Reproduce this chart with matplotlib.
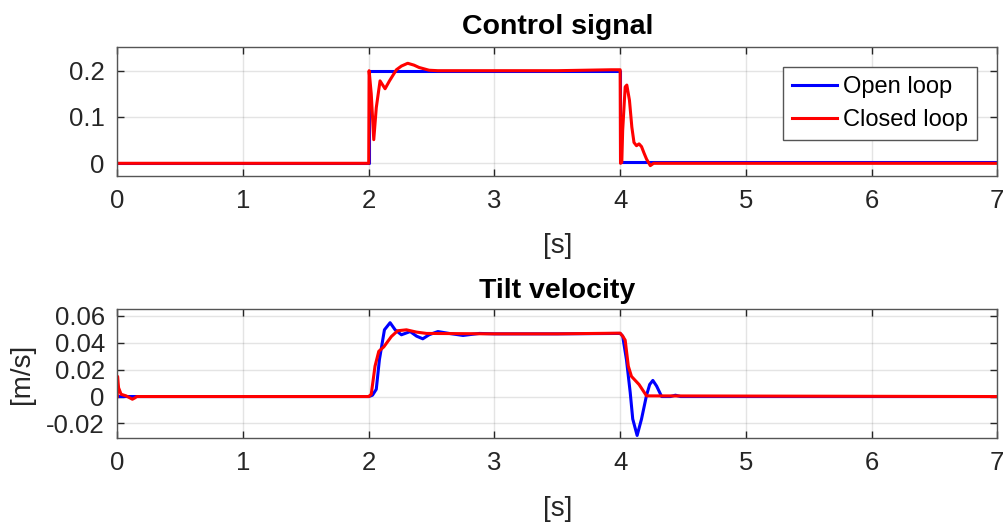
import numpy as np
import matplotlib
matplotlib.use("Agg")
import matplotlib.pyplot as plt

plt.rcParams['font.family'] = ['Liberation Sans', 'DejaVu Sans']

# Control signal, open loop (step between 2 s and 4 s)
t_u_open = [0, 2.0, 2.0, 4.0, 4.0, 7.0]
u_open = [0, 0, 0.2, 0.2, 0.003, 0.003]

# Control signal, closed loop
t_u_closed = [0, 2.0, 2.003, 2.02, 2.04, 2.06, 2.09, 2.13, 2.165, 2.22, 2.26, 2.31,
              2.36, 2.40, 2.48, 2.55, 3.0, 3.5, 3.93, 3.99, 4.0, 4.003, 4.013, 4.02,
              4.04, 4.053, 4.074, 4.093, 4.11, 4.13, 4.15, 4.17, 4.19, 4.21, 4.24, 4.266, 7.0]
u_closed = [0, 0, 0.2, 0.15, 0.051, 0.12, 0.178, 0.161, 0.178, 0.202, 0.21, 0.216,
            0.212, 0.207, 0.201, 0.2, 0.2, 0.2, 0.202, 0.202, 0.202, 0.0, 0.002, 0.071,
            0.165, 0.169, 0.136, 0.078, 0.045, 0.038, 0.042, 0.036, 0.022, 0.009, -0.005, 0.0, 0.0]

# Tilt velocity, open loop
t_v_open = [0, 2.0, 2.03, 2.06, 2.085, 2.125, 2.17, 2.21, 2.26, 2.33, 2.38, 2.43, 2.48,
            2.55, 2.64, 2.75, 2.88, 3.0, 3.5, 4.0, 4.02, 4.05, 4.08, 4.10, 4.135, 4.17,
            4.21, 4.235, 4.26, 4.29, 4.33, 4.40, 4.44, 4.48, 7.0]
v_open = [0, 0, 0.001, 0.0054, 0.0275, 0.0497, 0.055, 0.0497, 0.046, 0.0484, 0.045, 0.043,
          0.046, 0.0484, 0.047, 0.0455, 0.047, 0.0467, 0.0467, 0.047, 0.045, 0.0275, 0.003,
          -0.0167, -0.029, -0.0167, 0.001, 0.009, 0.012, 0.0078, 0.0, 0.0, 0.001, 0.0, 0.0]

# Tilt velocity, closed loop
t_v_closed = [0, 0.002, 0.01, 0.03, 0.07, 0.1, 0.12, 0.14, 0.155, 2.0, 2.02, 2.05, 2.08,
              2.12, 2.18, 2.23, 2.30, 2.38, 2.46, 3.0, 3.5, 4.0, 4.02, 4.04, 4.065, 4.09,
              4.15, 4.21, 7.0]
v_closed = [0.0, 0.015, 0.0066, 0.0017, 0.0005, -0.001, -0.002, -0.001, 0, 0, 0.0017,
            0.0226, 0.0337, 0.037, 0.0447, 0.049, 0.0497, 0.048, 0.047, 0.0467, 0.0467,
            0.0472, 0.045, 0.042, 0.0226, 0.015, 0.009, 0.0005, 0.0]

W, H = 1004, 522
fig = plt.figure(figsize=(W / 100, H / 100), dpi=100)

def px_axes(left, top, right, bottom):
    return fig.add_axes([left / W, 1 - bottom / H, (right - left) / W, (bottom - top) / H])

ax1 = px_axes(117.3, 46.7, 997.3, 176)
ax2 = px_axes(117.3, 309, 997.3, 438.3)

spine_col = '#262626'
for ax in (ax1, ax2):
    ax.set_xlim(0, 7)
    ax.set_xticks(range(8))
    ax.grid(True, color='#262626', alpha=0.12, linewidth=1)
    ax.tick_params(direction='in', top=True, right=True, length=5, width=1,
                   colors=spine_col, labelsize=18.5, pad=9)
    for s in ax.spines.values():
        s.set_color('#555555')
        s.set_linewidth(1)
    ax.set_xlabel('[s]', fontsize=20, color=spine_col, labelpad=15)

ax1.plot(t_u_open, u_open, color='#0000ff', lw=2.2, label='Open loop')
ax1.plot(t_u_closed, u_closed, color='#ff0000', lw=2.2, label='Closed loop')
ax1.set_ylim(-0.0274, 0.2518)
ax1.set_yticks([0, 0.1, 0.2])
ax1.set_yticklabels(['0', '0.1', '0.2'])
ax1.set_title('Control signal', fontsize=20.5, fontweight='bold', pad=9)
leg = ax1.legend(loc='upper right', bbox_to_anchor=(0.9773, 0.8453), borderaxespad=0,
                 fontsize=17, handlelength=1.9, handletextpad=0.25, labelspacing=0.45,
                 borderpad=0.4, fancybox=False, framealpha=1, edgecolor='#555555')
leg.get_frame().set_linewidth(1)

ax2.plot(t_v_open, v_open, color='#0000ff', lw=2.2)
ax2.plot(t_v_closed, v_closed, color='#ff0000', lw=2.2)
ax2.set_ylim(-0.0311, 0.0652)
ax2.set_yticks([-0.02, 0, 0.02, 0.04, 0.06])
ax2.set_yticklabels(['-0.02', '0', '0.02', '0.04', '0.06'])
ax2.set_title('Tilt velocity', fontsize=20.5, fontweight='bold', pad=8)
ax2.set_ylabel('[m/s]', fontsize=20, color=spine_col, labelpad=8)

fig.savefig('out.png', dpi=100)
